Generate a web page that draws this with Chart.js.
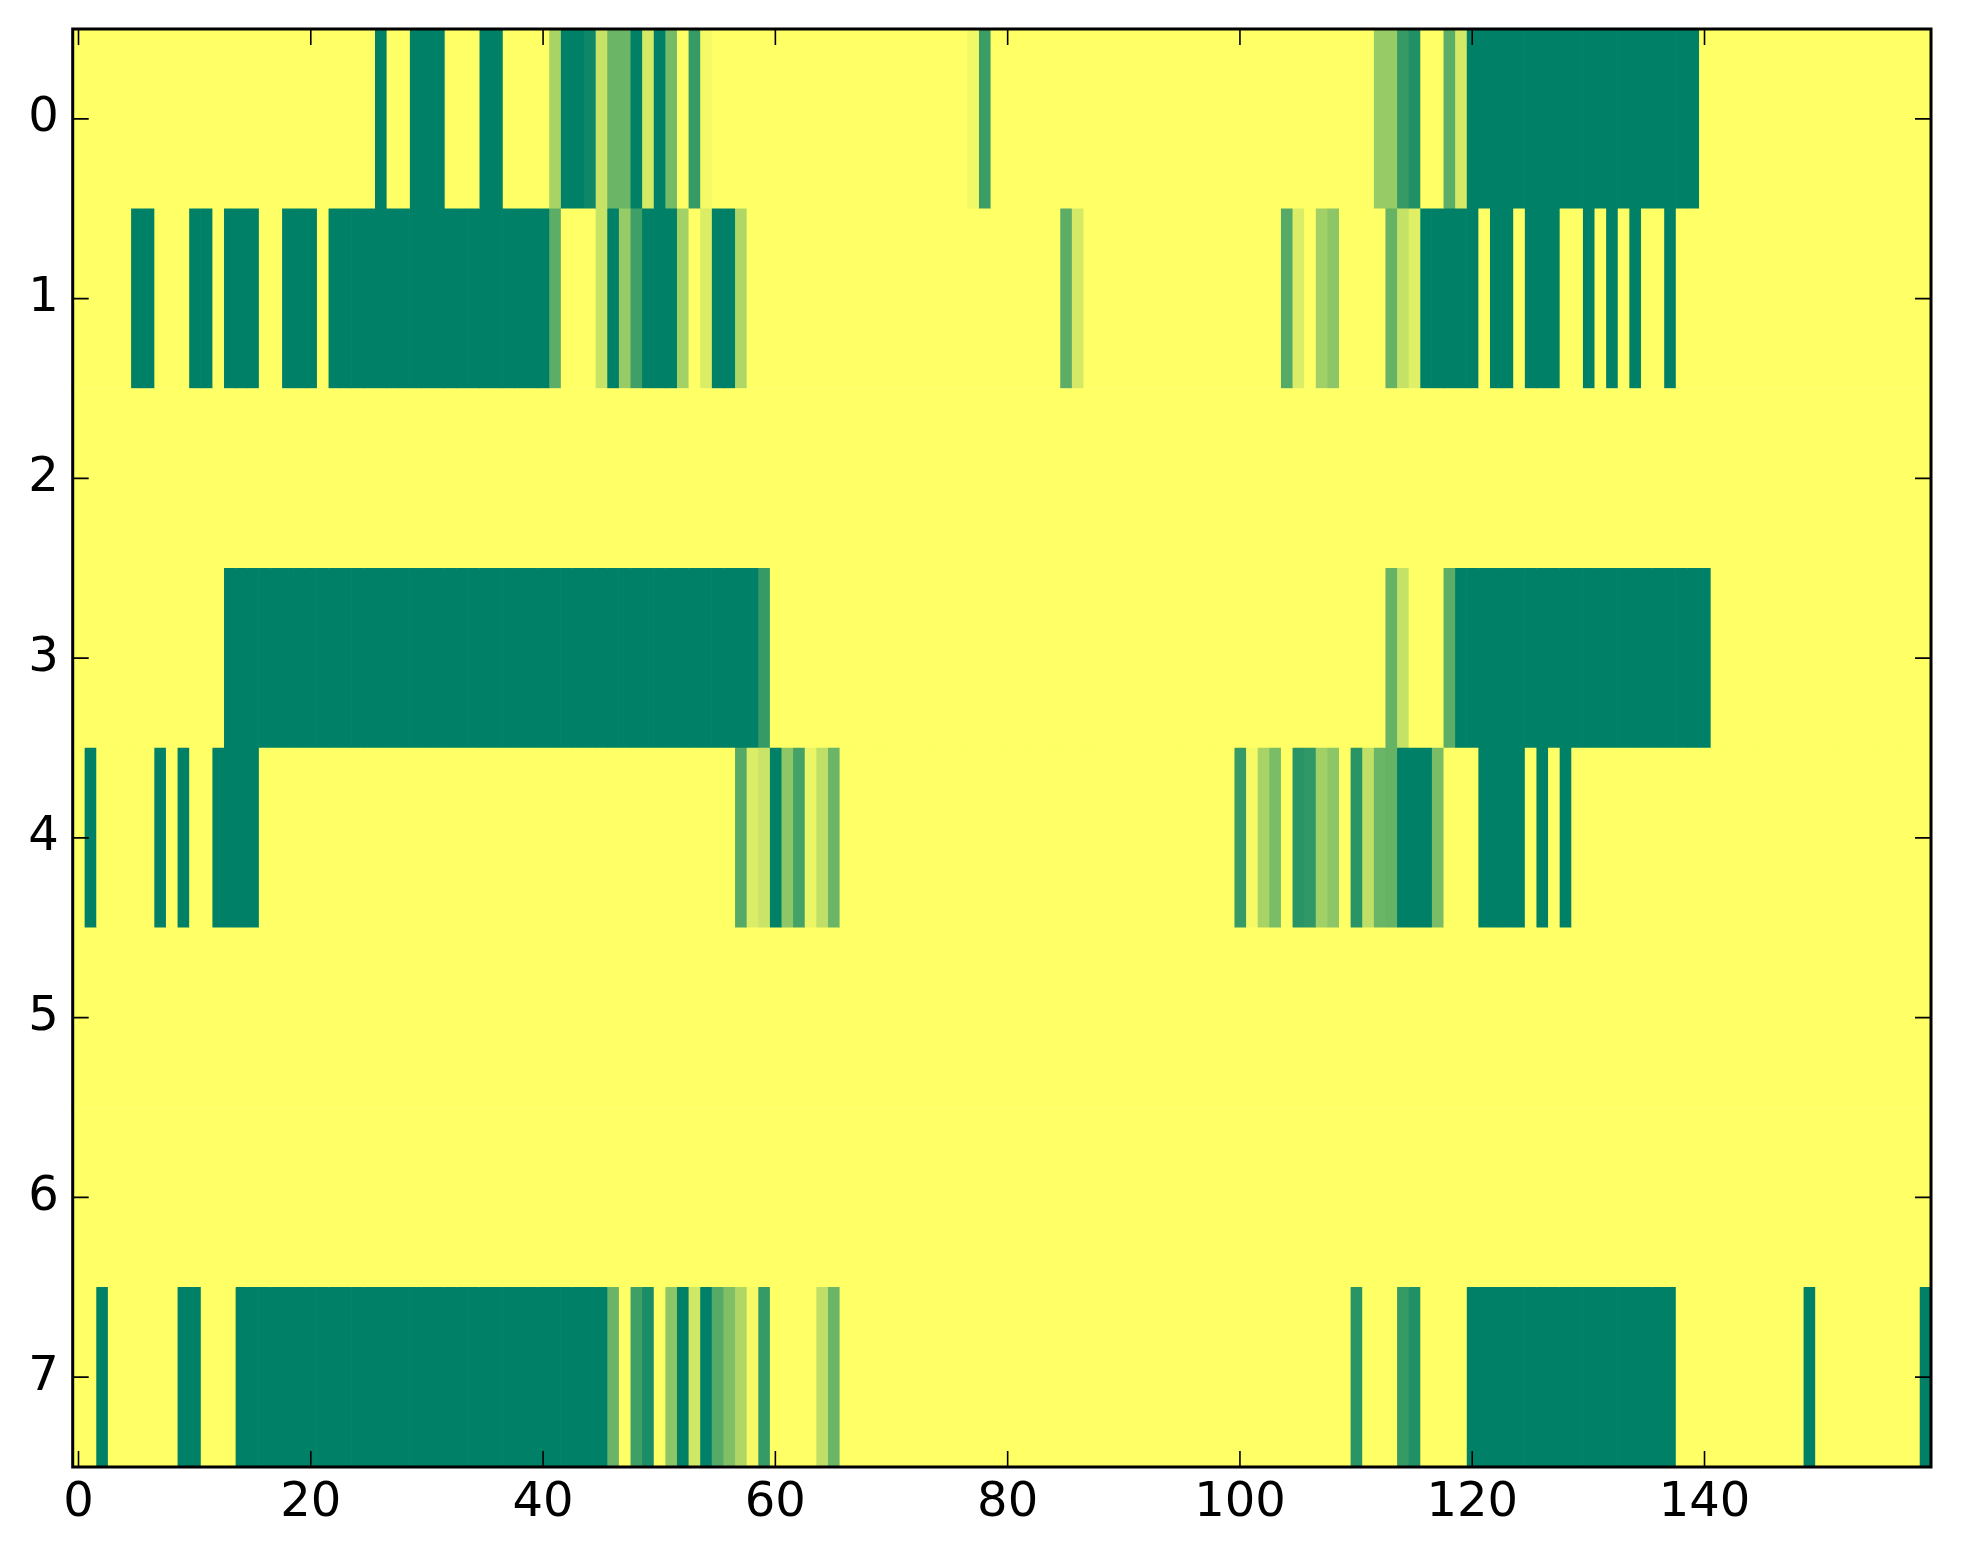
<!DOCTYPE html>
<html>
<head>
<meta charset="utf-8">
<script src="https://cdn.jsdelivr.net/npm/chart.js@4/dist/chart.umd.min.js"></script>
<style>
  html, body { margin: 0; padding: 0; background: #ffffff; }
  #wrap { width: 1963px; height: 1564px; }
</style>
</head>
<body>
<div id="wrap"><canvas id="heat" width="1963" height="1564"></canvas></div>
<script>
// values per row, 160 columns each (1 = yellow, 0 = dark green, summer colormap)
var row0 = [
  1,1,1,1,1,1,1,1,1,1,1,1,1,1,1,1,1,1,1,1,
  1,1,1,1,1,1,0,1,1,0,0,0,1,1,1,0,0,1,1,1,
  1,0.66,0,0,0.06,0.78,0.42,0.42,0,0.83,0,0.46,1,0.21,0.96,1,1,1,1,1,
  1,1,1,1,1,1,1,1,1,1,1,1,1,1,1,1,1,0.95,0.23,1,
  1,1,1,1,1,1,1,1,1,1,1,1,1,1,1,1,1,1,1,1,
  1,1,1,1,1,1,1,1,1,1,1,1,0.59,0.59,0.21,0.13,1,1,0.36,0.83,
  0,0,0,0,0,0,0,0,0,0,0,0,0,0,0,0,0,0,0,0,
  1,1,1,1,1,1,1,1,1,1,1,1,1,1,1,1,1,1,1,1
]
var row1 = [
  1,1,1,1,1,0,0,1,1,1,0,0,1,0,0,0,1,1,0,0,
  0,1,0,0,0,0,0,0,0,0,0,0,0,0,0,0,0,0,0,0,
  0,0.36,1,1,1,0.78,0,0.59,0.25,0,0,0,0.64,1,0.86,0,0,0.69,1,1,
  1,1,1,1,1,1,1,1,1,1,1,1,1,1,1,1,1,1,1,1,
  1,1,1,1,1,0.36,0.83,1,1,1,1,1,1,1,1,1,1,1,1,1,
  1,1,1,1,0.33,0.86,1,0.63,0.55,1,1,1,1,0.4,0.77,0.88,0,0,0,0,
  0,1,0,0,1,0,0,0,1,1,0,1,0,1,0,1,1,0,1,1,
  1,1,1,1,1,1,1,1,1,1,1,1,1,1,1,1,1,1,1,1
]
var row2 = [
  1,1,1,1,1,1,1,1,1,1,1,1,1,1,1,1,1,1,1,1,
  1,1,1,1,1,1,1,1,1,1,1,1,1,1,1,1,1,1,1,1,
  1,1,1,1,1,1,1,1,1,1,1,1,1,1,1,1,1,1,1,1,
  1,1,1,1,1,1,1,1,1,1,1,1,1,1,1,1,1,1,1,1,
  1,1,1,1,1,1,1,1,1,1,1,1,1,1,1,1,1,1,1,1,
  1,1,1,1,1,1,1,1,1,1,1,1,1,1,1,1,1,1,1,1,
  1,1,1,1,1,1,1,1,1,1,1,1,1,1,1,1,1,1,1,1,
  1,1,1,1,1,1,1,1,1,1,1,1,1,1,1,1,1,1,1,1
]
var row3 = [
  1,1,1,1,1,1,1,1,1,1,1,1,1,0,0,0,0,0,0,0,
  0,0,0,0,0,0,0,0,0,0,0,0,0,0,0,0,0,0,0,0,
  0,0,0,0,0,0,0,0,0,0,0,0,0,0,0,0,0,0,0,0.21,
  1,1,1,1,1,1,1,1,1,1,1,1,1,1,1,1,1,1,1,1,
  1,1,1,1,1,1,1,1,1,1,1,1,1,1,1,1,1,1,1,1,
  1,1,1,1,1,1,1,1,1,1,1,1,1,0.4,0.77,1,1,1,0.36,0,
  0,0,0,0,0,0,0,0,0,0,0,0,0,0,0,0,0,0,0,0,
  0,1,1,1,1,1,1,1,1,1,1,1,1,1,1,1,1,1,1,1
]
var row4 = [
  1,0,1,1,1,1,1,0,1,0,1,1,0,0,0,0,1,1,1,1,
  1,1,1,1,1,1,1,1,1,1,1,1,1,1,1,1,1,1,1,1,
  1,1,1,1,1,1,1,1,1,1,1,1,1,1,1,1,1,0.33,0.86,0.79,
  0,0.56,0.27,0.92,0.75,0.42,1,1,1,1,1,1,1,1,1,1,1,1,1,1,
  1,1,1,1,1,1,1,1,1,1,1,1,1,1,1,1,1,1,1,1,
  0.21,0.96,0.66,0.48,1,0.16,0.19,0.63,0.55,1,0.16,0.75,0.42,0.4,0,0,0,0.48,1,1,
  1,0,0,0,0,1,0,1,0,1,1,1,1,1,1,1,1,1,1,1,
  1,1,1,1,1,1,1,1,1,1,1,1,1,1,1,1,1,1,1,1
]
var row5 = [
  1,1,1,1,1,1,1,1,1,1,1,1,1,1,1,1,1,1,1,1,
  1,1,1,1,1,1,1,1,1,1,1,1,1,1,1,1,1,1,1,1,
  1,1,1,1,1,1,1,1,1,1,1,1,1,1,1,1,1,1,1,1,
  1,1,1,1,1,1,1,1,1,1,1,1,1,1,1,1,1,1,1,1,
  1,1,1,1,1,1,1,1,1,1,1,1,1,1,1,1,1,1,1,1,
  1,1,1,1,1,1,1,1,1,1,1,1,1,1,1,1,1,1,1,1,
  1,1,1,1,1,1,1,1,1,1,1,1,1,1,1,1,1,1,1,1,
  1,1,1,1,1,1,1,1,1,1,1,1,1,1,1,1,1,1,1,1
]
var row6 = [
  1,1,1,1,1,1,1,1,1,1,1,1,1,1,1,1,1,1,1,1,
  1,1,1,1,1,1,1,1,1,1,1,1,1,1,1,1,1,1,1,1,
  1,1,1,1,1,1,1,1,1,1,1,1,1,1,1,1,1,1,1,1,
  1,1,1,1,1,1,1,1,1,1,1,1,1,1,1,1,1,1,1,1,
  1,1,1,1,1,1,1,1,1,1,1,1,1,1,1,1,1,1,1,1,
  1,1,1,1,1,1,1,1,1,1,1,1,1,1,1,1,1,1,1,1,
  1,1,1,1,1,1,1,1,1,1,1,1,1,1,1,1,1,1,1,1,
  1,1,1,1,1,1,1,1,1,1,1,1,1,1,1,1,1,1,1,1
]
var row7 = [
  1,1,0,1,1,1,1,1,1,0,0,1,1,1,0,0,0,0,0,0,
  0,0,0,0,0,0,0,0,0,0,0,0,0,0,0,0,0,0,0,0,
  0,0,0,0,0,0,0.41,1,0.25,0.1,1,0.55,0,0.82,0,0.33,0.5,0.69,0.96,0.21,
  1,1,1,1,0.75,0.42,1,1,1,1,1,1,1,1,1,1,1,1,1,1,
  1,1,1,1,1,1,1,1,1,1,1,1,1,1,1,1,1,1,1,1,
  1,1,1,1,1,1,1,1,1,1,0.16,1,1,1,0.21,0.13,1,1,1,1,
  0,0,0,0,0,0,0,0,0,0,0,0,0,0,0,0,0,0,1,1,
  1,1,1,1,1,1,1,1,1,0,1,1,1,1,1,1,1,1,1,0
]
var rows = [row0, row1, row2, row3, row4, row5, row6, row7]
var rowLabels = ['0', '1', '2', '3', '4', '5', '6', '7']
var xTicks = [0, 20, 40, 60, 80, 100, 120, 140]

// matplotlib "summer" colormap
function summer(v) {
    var r = Math.round(v * 255)
    var g = Math.round((0.5 + v / 2) * 255)
    return 'rgb(' + r + ',' + g + ',102)'
}

var datasets = []
for (var c = 0; c < row0.length; c++) {
    datasets.push({
        data: rows.map(function () { return [c - 0.5, c + 0.5] }),
        backgroundColor: rows.map(function (r) { return summer(r[c]) }),
        borderWidth: 0
    })
}

// frame and inward ticks on all four sides, like the classic matplotlib look
var frame = {
    id: 'frame',
    afterDatasetsDraw: function (chart) {
        var ctx = chart.ctx
        var a = chart.chartArea
        var xs = chart.scales.x
        var ys = chart.scales.y
        ctx.save()
        ctx.strokeStyle = '#000'
        ctx.lineWidth = 1.6
        ctx.beginPath()
        xTicks.forEach(function (t) {
            var px = xs.getPixelForValue(t)
            ctx.moveTo(px, a.bottom); ctx.lineTo(px, a.bottom - 16)
            ctx.moveTo(px, a.top); ctx.lineTo(px, a.top + 16)
        })
        rowLabels.forEach(function (l, i) {
            var py = ys.getPixelForValue(i)
            ctx.moveTo(a.left, py); ctx.lineTo(a.left + 16, py)
            ctx.moveTo(a.right, py); ctx.lineTo(a.right - 16, py)
        })
        ctx.stroke()
        ctx.lineWidth = 3
        ctx.strokeRect(a.left, a.top, a.right - a.left, a.bottom - a.top)
        ctx.restore()
    }
}

var tickFont = { family: 'DejaVu Sans', size: 48 }

new Chart(document.getElementById('heat').getContext('2d'), {
    type: 'bar',
    data: { labels: rowLabels, datasets: datasets },
    options: {
        indexAxis: 'y',
        responsive: false,
        animation: false,
        devicePixelRatio: 1,
        grouped: false,
        barPercentage: 1,
        categoryPercentage: 1,
        layout: { padding: { top: 29, right: 32, left: 0, bottom: 0 } },
        plugins: { legend: { display: false }, tooltip: { enabled: false } },
        scales: {
            x: {
                type: 'linear',
                min: -0.5,
                max: 159.5,
                grid: { display: false, drawTicks: false },
                border: { display: false },
                ticks: { font: tickFont, color: '#000', padding: 8 },
                afterBuildTicks: function (s) {
                    s.ticks = xTicks.map(function (v) { return { value: v } })
                },
                afterFit: function (s) {
                    s.height = 97
                    s.paddingLeft = 0
                    s.paddingRight = 0
                }
            },
            y: {
                type: 'category',
                offset: true,
                grid: { display: false, drawTicks: false },
                border: { display: false },
                ticks: { font: tickFont, color: '#000', padding: 14 },
                afterFit: function (s) {
                    s.width = 72.7
                    s.paddingTop = 0
                    s.paddingBottom = 0
                }
            }
        }
    },
    plugins: [frame]
})
</script>
</body>
</html>
